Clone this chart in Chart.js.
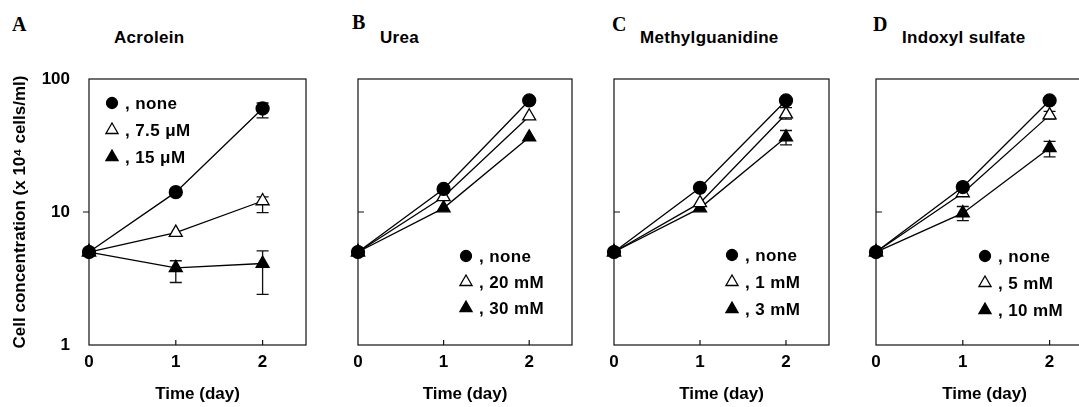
<!DOCTYPE html>
<html>
<head>
<meta charset="utf-8">
<script src="https://cdn.jsdelivr.net/npm/chart.js@4.4.1/dist/chart.umd.min.js"></script>
<style>
html, body { margin: 0; padding: 0; background: #fff; overflow: hidden; width: 1079px; height: 407px; }
.panel { position: absolute; top: 0; }
.lbl { position: absolute; font: bold 20px "Liberation Serif", "Times New Roman", serif; line-height: 1; color: #000; }
.ttl { position: absolute; font: bold 17px "Liberation Sans", Arial, sans-serif; line-height: 1; color: #000; white-space: nowrap; letter-spacing: 0.3px; }
</style>
</head>
<body>
<div class="lbl" style="left:12px;top:14px">A</div>
<div class="ttl" style="left:114px;top:29px">Acrolein</div>
<div class="lbl" style="left:352px;top:12px">B</div>
<div class="ttl" style="left:380px;top:29px">Urea</div>
<div class="lbl" style="left:612px;top:14px">C</div>
<div class="ttl" style="left:640px;top:29px">Methylguanidine</div>
<div class="lbl" style="left:873px;top:14px">D</div>
<div class="ttl" style="left:902px;top:29px">Indoxyl sulfate</div>

<canvas id="chartA" class="panel" width="330" height="407" style="left:0px"></canvas>
<canvas id="chartB" class="panel" width="260" height="407" style="left:330px"></canvas>
<canvas id="chartC" class="panel" width="255" height="407" style="left:590px"></canvas>
<canvas id="chartD" class="panel" width="260" height="407" style="left:845px"></canvas>

<script>
// data
const days = [0, 1, 2];
const xTicks = [0, 1, 2];
const yTicks = [1, 10, 100];

const acroleinLabels = [", none", ", 7.5 \u03bcM", ", 15 \u03bcM"];
const acroleinNone = [5.0, 14.1, 60];
const acrolein75 = [5.0, 7.0, 12.1];
const acrolein15 = [5.0, 3.8, 4.1];
const acroleinNoneErr = [null, null, [51, 66]];
const acrolein75Err = [null, null, [9.9, 13]];
const acrolein15Err = [null, [2.95, 4.3], [2.4, 5.1]];

const ureaLabels = [", none", ", 20 mM", ", 30 mM"];
const ureaNone = [5.0, 14.9, 69];
const urea20 = [5.0, 13.0, 52.5];
const urea30 = [5.0, 10.7, 36.5];

const mguLabels = [", none", ", 1 mM", ", 3 mM"];
const mguNone = [5.0, 15.2, 69];
const mgu1 = [5.0, 11.7, 54.5];
const mgu3 = [5.0, 10.7, 36.5];
const mgu1Err = [null, null, [50, 61]];
const mgu3Err = [null, null, [32, 41]];

const indLabels = [", none", ", 5 mM", ", 10 mM"];
const indNone = [5.0, 15.4, 69];
const ind5 = [5.0, 13.9, 53.5];
const ind10 = [5.0, 9.8, 30.3];
const ind5Err = [null, null, [50, 57]];
const ind10Err = [null, [8.6, 11], [26, 34]];

const FONT = '"Liberation Sans", Arial, sans-serif';
Chart.defaults.color = "#000";
Chart.defaults.font.family = FONT;

const markers = [
  { pointStyle: "circle", radius: 6.5, legendRadius: 5.5, fill: "#000" },
  { pointStyle: "triangle", radius: 7.5, legendRadius: 7, fill: "#fff" },
  { pointStyle: "triangle", radius: 7.5, legendRadius: 7, fill: "#000" }
];

// frame, tick marks, error bars
const framePlugin = {
  id: "frame",
  beforeDatasetsDraw(chart, args, opts) {
    const { ctx, chartArea: a, scales } = chart;
    ctx.save();
    ctx.strokeStyle = "#111";
    ctx.lineWidth = 1.2;
    ctx.strokeRect(a.left, a.top, a.right - a.left, a.bottom - a.top);
    ctx.beginPath();
    opts.xMarks.forEach(v => {
      const x = scales.x.getPixelForValue(v);
      ctx.moveTo(x, a.bottom);
      ctx.lineTo(x, a.bottom - 5);
    });
    opts.yMarks.forEach(v => {
      const y = scales.y.getPixelForValue(v);
      ctx.moveTo(a.left, y);
      ctx.lineTo(a.left + opts.yDir * 6, y);
    });
    ctx.stroke();
    ctx.lineWidth = 1.3;
    chart.data.datasets.forEach(ds => {
      (ds.errors || []).forEach((e, j) => {
        if (!e) return;
        const x = scales.x.getPixelForValue(ds.data[j].x);
        const y1 = scales.y.getPixelForValue(e[0]);
        const y2 = scales.y.getPixelForValue(e[1]);
        ctx.beginPath();
        ctx.moveTo(x, y1); ctx.lineTo(x, y2);
        ctx.moveTo(x - 6, y1); ctx.lineTo(x + 6, y1);
        ctx.moveTo(x - 6, y2); ctx.lineTo(x + 6, y2);
        ctx.stroke();
      });
    });
    ctx.restore();
  }
};

// legend inside plot
const boxLegend = {
  id: "boxLegend",
  afterDatasetsDraw(chart, args, opts) {
    const ctx = chart.ctx;
    ctx.save();
    ctx.font = "bold 17px " + FONT;
    ctx.letterSpacing = "0.4px";
    ctx.textBaseline = "middle";
    ctx.textAlign = "left";
    chart.data.datasets.forEach((ds, i) => {
      const y = opts.y + i * opts.gap;
      ctx.fillStyle = ds.pointBackgroundColor;
      ctx.strokeStyle = "#000";
      ctx.lineWidth = 1.3;
      Chart.helpers.drawPoint(ctx, { pointStyle: ds.pointStyle, radius: markers[i].legendRadius, borderWidth: 1.3, rotation: 0 }, opts.x, y);
      ctx.fillStyle = "#000";
      ctx.fillText(ds.label, opts.x + 13, y + 1);
    });
    ctx.restore();
  }
};

function makePanel(id, labels, series, errs, p) {
  const datasets = series.map((vals, i) => ({
    label: labels[i],
    data: days.map((d, j) => ({ x: d, y: vals[j] })),
    errors: errs[i],
    borderColor: "#000",
    borderWidth: 1.3,
    pointStyle: markers[i].pointStyle,
    pointRadius: markers[i].radius,
    pointBackgroundColor: markers[i].fill,
    pointBorderColor: "#000",
    pointBorderWidth: 1.3,
    clip: false,
    order: i
  }));
  new Chart(document.getElementById(id), {
    type: "line",
    data: { datasets },
    options: {
      responsive: false,
      animation: false,
      devicePixelRatio: 1,
      events: [],
      layout: { padding: { left: 0, top: 79, right: p.padRight, bottom: 0 } },
      scales: {
        x: {
          type: "linear", min: 0, max: 2.5,
          afterBuildTicks: s => { s.ticks = xTicks.map(v => ({ value: v })); },
          afterFit: s => { s.height = 62; },
          grid: { display: false, drawTicks: false },
          border: { display: false },
          ticks: { autoSkip: false, padding: 7, maxRotation: 0, font: { size: 17, weight: "bold" }, callback: v => String(v) },
          title: { display: true, text: "Time (day)", font: { size: 17, weight: "bold" }, padding: { top: 0, bottom: 2 } }
        },
        y: {
          type: "logarithmic", min: 1, max: 100,
          afterBuildTicks: s => { s.ticks = yTicks.map(v => ({ value: v })); },
          afterFit: s => { s.width = p.yWidth; },
          grid: { display: false, drawTicks: false },
          border: { display: false },
          ticks: { display: p.showY, autoSkip: false, padding: 19, font: { size: 17, weight: "bold" }, callback: v => String(v) },
          title: { display: p.showY, text: "Cell concentration (x 10\u2074 cells/ml)", font: { size: 17, weight: "bold" }, padding: { top: 10, bottom: 0 } }
        }
      },
      plugins: {
        legend: { display: false },
        tooltip: { enabled: false },
        frame: { xMarks: [1, 2], yMarks: [10], yDir: p.yDir },
        boxLegend: p.legend
      }
    },
    plugins: [framePlugin, boxLegend]
  });
}

makePanel("chartA", acroleinLabels, [acroleinNone, acrolein75, acrolein15],
  [acroleinNoneErr, acrolein75Err, acrolein15Err],
  { padRight: 24, yWidth: 89, showY: true, yDir: -1, legend: { x: 112, y: 103, gap: 27 } });
makePanel("chartB", ureaLabels, [ureaNone, urea20, urea30], [null, null, null],
  { padRight: 18, yWidth: 28, showY: false, yDir: 1, legend: { x: 136, y: 256, gap: 26 } });
makePanel("chartC", mguLabels, [mguNone, mgu1, mgu3], [null, mgu1Err, mgu3Err],
  { padRight: 16, yWidth: 24, showY: false, yDir: 1, legend: { x: 142, y: 255, gap: 27 } });
makePanel("chartD", indLabels, [indNone, ind5, ind10], [null, ind5Err, ind10Err],
  { padRight: 12, yWidth: 31, showY: false, yDir: 1, legend: { x: 140, y: 256, gap: 27 } });
</script>
</body>
</html>
